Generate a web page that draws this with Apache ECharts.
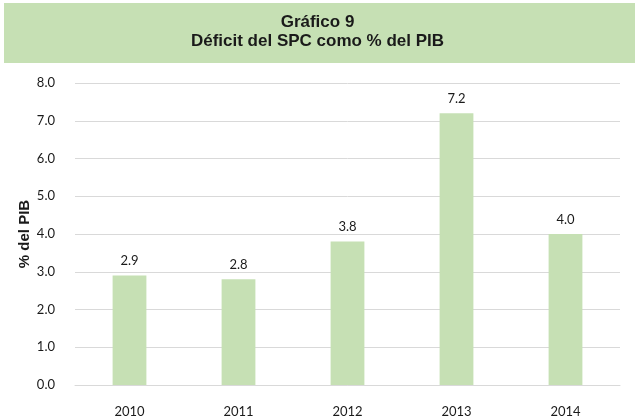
<!DOCTYPE html>
<html>
<head>
<meta charset="utf-8">
<script src="https://cdn.jsdelivr.net/npm/echarts@6/dist/echarts.min.js"></script>
<style>
  html, body { margin: 0; padding: 0; background: #fff; }
  #chart { width: 635px; height: 419px; }
</style>
</head>
<body>
<div id="chart"></div>
<script>
// datos del gráfico
const years = ['2010', '2011', '2012', '2013', '2014']
const deficit = [2.9, 2.8, 3.8, 7.2, 4.0]
const titleLines = ['Gráfico 9', 'Déficit del SPC como % del PIB']
const yAxisName = '% del PIB'

const chart = echarts.init(document.getElementById('chart'))

const option = {
  animation: false,
  graphic: [
    {
      type: 'rect',
      left: 4,
      top: 3,
      shape: { width: 631, height: 60 },
      style: { fill: '#c6e0b4' },
      z: 0
    }
  ],
  title: {
    text: titleLines.join('\n'),
    left: 'center',
    top: 13,
    padding: 0,
    textStyle: {
      fontFamily: '"Liberation Sans Narrow", "Liberation Sans", Arial, sans-serif',
      fontWeight: 'bold',
      fontSize: 17,
      lineHeight: 19,
      color: '#1a1a1a'
    }
  },
  grid: {
    left: 75,
    right: 15,
    top: 83,
    bottom: 34
  },
  xAxis: {
    type: 'category',
    data: years,
    axisTick: { show: false },
    axisLine: { lineStyle: { color: '#d9d9d9', width: 1 } },
    axisLabel: {
      color: '#1a1a1a',
      fontFamily: 'Lato, "Open Sans", sans-serif',
      fontSize: 13,
      margin: 20
    }
  },
  yAxis: {
    type: 'value',
    min: 0,
    max: 8,
    interval: 1,
    name: yAxisName,
    nameLocation: 'middle',
    nameGap: 43,
    nameMoveOverlap: false,
    nameTextStyle: {
      fontFamily: '"Liberation Sans", Arial, sans-serif',
      fontWeight: 'bold',
      fontSize: 15,
      color: '#1a1a1a'
    },
    axisLine: { show: false },
    axisTick: { show: false },
    splitLine: { lineStyle: { color: '#d9d9d9', width: 1 } },
    axisLabel: {
      formatter: v => v.toFixed(1),
      color: '#1a1a1a',
      fontFamily: 'Lato, "Open Sans", sans-serif',
      fontSize: 13,
      margin: 20
    }
  },
  series: [
    {
      type: 'bar',
      data: deficit,
      barWidth: '31%',
      itemStyle: { color: '#c6e0b4' },
      label: {
        show: true,
        position: 'top',
        distance: 8,
        formatter: p => p.value.toFixed(1),
        color: '#1a1a1a',
        fontFamily: 'Lato, "Open Sans", sans-serif',
        fontSize: 13
      }
    }
  ]
}

chart.setOption(option)
</script>
</body>
</html>
